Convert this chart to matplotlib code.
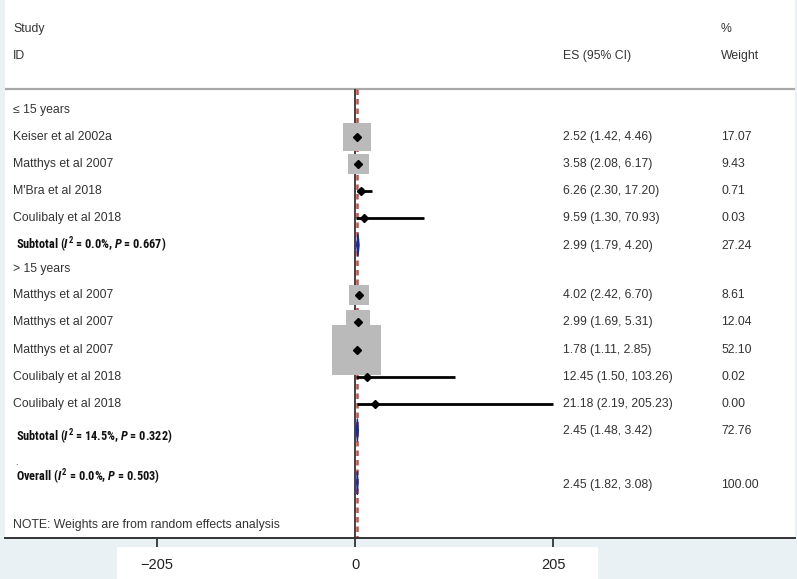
import matplotlib.pyplot as plt
from matplotlib import font_manager
from matplotlib.patches import Rectangle, Polygon

# ---- data
studies = ["Keiser et al 2002a", "Matthys et al 2007", "M'Bra et al 2018", "Coulibaly et al 2018",
           "Matthys et al 2007", "Matthys et al 2007", "Matthys et al 2007",
           "Coulibaly et al 2018", "Coulibaly et al 2018"]
es = [2.52, 3.58, 6.26, 9.59, 4.02, 2.99, 1.78, 12.45, 21.18]
lo = [1.42, 2.08, 2.30, 1.30, 2.42, 1.69, 1.11, 1.50, 2.19]
hi = [4.46, 6.17, 17.20, 70.93, 6.70, 5.31, 2.85, 103.26, 205.23]
weights = [17.07, 9.43, 0.71, 0.03, 8.61, 12.04, 52.10, 0.02, 0.00]

groups = ["\u2264 15 years", "> 15 years"]
sub_labels = [r"Subtotal ($I^2$ = 0.0%, $P$ = 0.667)",
              r"Subtotal ($I^2$ = 14.5%, $P$ = 0.322)"]
sub_es = [2.99, 2.45]
sub_lo = [1.79, 1.48]
sub_hi = [4.20, 3.42]
sub_w = [27.24, 72.76]

overall_label = r"Overall ($I^2$ = 0.0%, $P$ = 0.503)"
overall_es, overall_lo, overall_hi, overall_w = 2.45, 1.82, 3.08, 100.00

xticks = [-205, 0, 205]
xticklabels = ["\u2212205", "0", "205"]

# ---- layout (pixel rows of the 797x579 picture)
W, H = 797, 579
study_y = [137, 164, 191, 218, 295, 322, 350, 377, 404]
group_y = [110, 269]
sub_text_y = [245, 437]
sub_y = [245, 430]
overall_text_y, overall_y = 477, 483
sep_y, axis_y = 89, 538
px_per_unit = 198 / 205
zero_px = 355

txt = "#333333"
plt.rcParams['font.family'] = ['Liberation Sans', 'DejaVu Sans']

# condensed bold face (with bold italic if possible) for the subtotal / overall lines
fonts = font_manager.fontManager.ttflist
bold_names = {f.name for f in fonts if f.weight in (700, 'bold')}
bold_it_names = {f.name for f in fonts if f.weight in (700, 'bold') and f.style == 'italic'}
cands = ['Liberation Sans Narrow', 'Arial Narrow', 'Roboto Condensed', 'Archivo Narrow',
         'Barlow Semi Condensed', 'PT Sans Narrow', 'Pragati Narrow']
narrow = next((c for c in cands if c in bold_it_names), None) or \
    next((c for c in cands if c in bold_names), 'Liberation Sans')
plt.rcParams['mathtext.fontset'] = 'custom'
plt.rcParams['mathtext.rm'] = narrow + ':bold'
plt.rcParams['mathtext.it'] = narrow + ':italic:bold'
plt.rcParams['mathtext.bf'] = narrow + ':bold'

fig = plt.figure(figsize=(W / 100, H / 100), dpi=100)
fig.patch.set_facecolor("#e9f1f4")
fig.add_artist(Rectangle((117 / W, 0), (598 - 117) / W, 32 / H, transform=fig.transFigure,
                         facecolor="white", edgecolor="none", zorder=-1))

ax = fig.add_axes([5 / W, (H - axis_y) / H, 790 / W, axis_y / H])
ax.set_facecolor("white")
ax.set_xlim((5 - zero_px) / px_per_unit, (795 - zero_px) / px_per_unit)
ax.set_ylim(axis_y, 0)
for s in ["top", "left", "right"]:
    ax.spines[s].set_visible(False)
ax.spines["bottom"].set_color("#333333")
ax.spines["bottom"].set_linewidth(1.4)
ax.set_yticks([])
ax.set_xticks(xticks)
ax.set_xticklabels(xticklabels, fontsize=10.5, color="#222222")
ax.tick_params(axis="x", direction="out", length=6.5, width=1.3, pad=8, color="#333333")

# header
col_lab, col_es, col_w = 13, 563, 721
def px(x):
    return (x - zero_px) / px_per_unit

fs = 8.8
ax.text(px(col_lab), 29, "Study", fontsize=fs, color=txt, va="center")
ax.text(px(col_lab), 56, "ID", fontsize=fs, color=txt, va="center")
ax.text(px(col_es), 56, "ES (95% CI)", fontsize=fs, color=txt, va="center")
ax.text(px(col_w), 29, "%", fontsize=fs, color=txt, va="center")
ax.text(px(col_w), 56, "Weight", fontsize=fs, color=txt, va="center")
ax.axhline(sep_y, color="#a8a8a8", lw=1.6)

# reference lines
ax.vlines(0, sep_y, axis_y, color="#333333", lw=1.3, zorder=2)
ax.vlines(overall_es, sep_y, axis_y, color="#c0504d", lw=1.8, linestyles=(0, (2.2, 1.6)), zorder=2)

# studies
ax.hlines(study_y, lo, hi, color="black", lw=2, zorder=3)
ax.scatter(es, study_y, s=[24 * w for w in weights], marker="s", color="#bababa",
           edgecolors="none", zorder=4)
ax.plot(es, study_y, "D", color="black", ms=4.3, zorder=5)
for i, name in enumerate(studies):
    y = study_y[i]
    ax.text(px(col_lab), y, name, fontsize=fs, color=txt, va="center")
    ax.text(px(col_es), y, f"{es[i]:.2f} ({lo[i]:.2f}, {hi[i]:.2f})", fontsize=fs, color=txt, va="center")
    ax.text(px(col_w), y, f"{weights[i]:.2f}", fontsize=fs, color=txt, va="center")

bold_kw = dict(fontsize=9, color="#111111", va="center", family=[narrow, 'DejaVu Sans'],
               fontweight="bold")
bold_texts = []

# subgroups
for g in range(2):
    ax.text(px(col_lab), group_y[g], groups[g], fontsize=fs, color=txt, va="center")
    bold_texts.append(ax.text(px(16), sub_text_y[g], sub_labels[g], **bold_kw))
    ax.add_patch(Polygon([(sub_lo[g], sub_y[g]), (sub_es[g], sub_y[g] - 11.5),
                          (sub_hi[g], sub_y[g]), (sub_es[g], sub_y[g] + 11.5)],
                         closed=True, facecolor="#1c2a96", edgecolor="#1c2a96", lw=1, zorder=4))
    ax.text(px(col_es), sub_y[g] + 1, f"{sub_es[g]:.2f} ({sub_lo[g]:.2f}, {sub_hi[g]:.2f})",
            fontsize=fs, color=txt, va="center")
    ax.text(px(col_w), sub_y[g] + 1, f"{sub_w[g]:.2f}", fontsize=fs, color=txt, va="center")

# overall
ax.text(px(15), 462, ".", fontsize=7, color=txt, va="center")
bold_texts.append(ax.text(px(16), overall_text_y, overall_label, **bold_kw))
ax.add_patch(Polygon([(overall_lo, overall_y), (overall_es, overall_y - 11.5),
                      (overall_hi, overall_y), (overall_es, overall_y + 11.5)],
                     closed=True, facecolor="#1c2a96", edgecolor="#1c2a96", lw=1, zorder=4))
ax.text(px(col_es), overall_y + 2, f"{overall_es:.2f} ({overall_lo:.2f}, {overall_hi:.2f})",
        fontsize=fs, color=txt, va="center")
ax.text(px(col_w), overall_y + 2, f"{overall_w:.2f}", fontsize=fs, color=txt, va="center")

ax.text(px(col_lab), 525, "NOTE: Weights are from random effects analysis", fontsize=fs, color=txt, va="center")

# fit the condensed bold lines to the width they have in the reference (157 px)
fig.canvas.draw()
r = fig.canvas.get_renderer()
wpx = bold_texts[1].get_window_extent(r).width
size = min(11.5, 9 * 157 / wpx)
for t in bold_texts:
    t.set_fontsize(size)

fig.savefig("out.png", dpi=100, facecolor=fig.get_facecolor())
